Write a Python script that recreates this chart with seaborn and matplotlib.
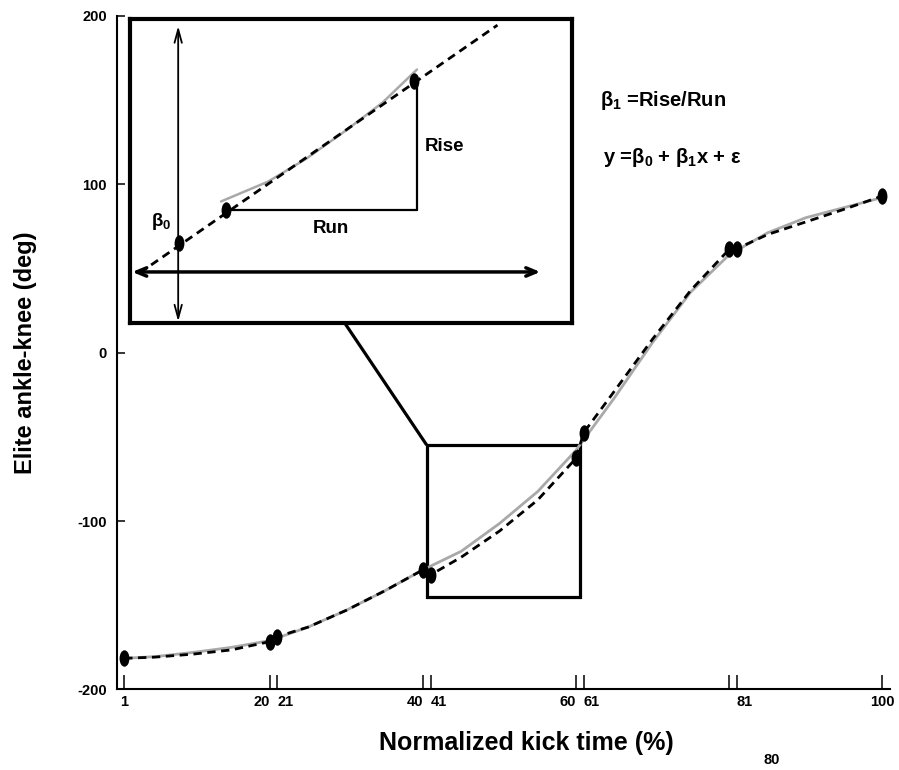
import numpy as np
import pandas as pd
import matplotlib
matplotlib.use("Agg")
import matplotlib.pyplot as plt
import seaborn as sns
from matplotlib.markers import MarkerStyle
from matplotlib.transforms import Affine2D
from matplotlib.patches import Rectangle

# ---------------- data ----------------
point_x = [1, 20, 21, 40, 41, 60, 61, 80, 81, 100]
point_y = [-181.5, -171.6, -168.6, -129.0, -132.0, -62.8, -47.6, 61.2, 61.6, 92.9]

gray_x = [1, 5, 10, 15, 20, 25, 30, 35, 40, 45, 50, 55, 60, 65, 70, 75, 80, 85, 90, 95, 100]
gray_y = [-181.5, -180.5, -178, -175, -171, -163, -153, -141.5, -129, -118, -101.5,
          -82.5, -58, -27, 6, 36, 58, 71, 80, 86, 92]

dash_x = [1, 5, 10, 15, 20, 21, 25, 30, 35, 40, 41, 45, 50, 55, 60, 61, 65, 70, 75,
          80, 81, 85, 90, 95, 100]
dash_y = [-181.5, -180.8, -179, -176.5, -171.6, -168.6, -163, -153, -141.5, -129,
          -132, -121.5, -106, -87.5, -62.8, -47.6, -23, 8, 37, 61.2, 61.6, 70, 77.5, 85, 92.9]

x_ticks = [1, 20, 21, 40, 41, 60, 61, 80, 81, 100]
x_tick_labels = ["1", "20", "21", "40", "41", "60", "61", "", "81", "100"]
y_ticks = [-200, -100, 0, 100, 200]

# zoomed region (data units) and inset frame (data units)
zoom_box = [40.5, -145.0, 60.5, -54.9]      # x0, y0, x1, y1
inset_box = [1.76, 17.5, 59.5, 197.9]       # x0, y0, x1, y1
connector_x = [29.8, 40.5]
connector_y = [17.5, -54.9]

# schematic inside the inset (inset units 0..100)
ins_dash_u = [2.2, 83.1]
ins_dash_v = [16.5, 98.0]
ins_gray_u = [20.6, 31.2, 39.8, 48.5, 57.1, 64.9]
ins_gray_v = [40.0, 46.5, 54.0, 63.0, 72.5, 83.4]
ins_pts_u = [11.1, 21.7, 64.3]
ins_pts_v = [26.2, 37.3, 79.5]

# ---------------- style ----------------
sns.set_theme(style="white")
plt.rcParams["font.family"] = ["Liberation Sans", "DejaVu Sans"]
plt.rcParams["font.weight"] = "bold"
plt.rcParams["axes.labelweight"] = "bold"

BLACK = "#000000"
GRAY = "#a9a9a9"
ell = MarkerStyle("o", transform=Affine2D().scale(0.6, 1.0))

fig = plt.figure(figsize=(8.99, 7.7), dpi=100)
fig.patch.set_facecolor("white")
ax = fig.add_axes([0.1296, 0.10455, 0.8604, 0.8753])
ax.set_facecolor("white")

# zoom rectangle + connector
zr = Rectangle((zoom_box[0], zoom_box[1]), zoom_box[2] - zoom_box[0], zoom_box[3] - zoom_box[1],
               fill=False, edgecolor=BLACK, linewidth=2.3, zorder=2)
ax.add_patch(zr)
ax.plot(connector_x, connector_y, color=BLACK, linewidth=2.3, zorder=2, solid_capstyle="butt")

sns.lineplot(x=gray_x, y=gray_y, color=GRAY, linewidth=2.0, ax=ax, zorder=3)
sns.lineplot(x=dash_x, y=dash_y, color=BLACK, linewidth=2.0, linestyle=(0, (3, 2)),
             ax=ax, zorder=4)
sns.scatterplot(x=point_x, y=point_y, marker=ell, s=140, color=BLACK, edgecolor=BLACK,
                linewidth=0, ax=ax, zorder=5)

ax.set_xlim(0, 101)
ax.set_ylim(-200, 200)
for s in ["top", "right"]:
    ax.spines[s].set_visible(False)
for s in ["left", "bottom"]:
    ax.spines[s].set_linewidth(1.5)
    ax.spines[s].set_color(BLACK)

ax.set_xticks(x_ticks)
ax.set_xticklabels(x_tick_labels)
ax.set_yticks(y_ticks)
ax.set_yticklabels([str(v) for v in y_ticks])
ax.tick_params(axis="x", direction="in", length=10, width=1.1, color=BLACK, pad=4,
               labelsize=10.5, labelcolor=BLACK, bottom=True)
ax.tick_params(axis="y", direction="in", length=6, width=1.1, color=BLACK, pad=7,
               labelsize=10.5, labelcolor=BLACK, left=True)
has = ["center", "right", "left", "right", "left", "right", "left", "right", "left", "center"]
for lab, h in zip(ax.get_xticklabels(), has):
    lab.set_ha(h)
    lab.set_fontweight("bold")
for lab in ax.get_yticklabels():
    lab.set_fontweight("bold")

# displaced "80" label
ax.annotate("80", xy=(80, 0), xycoords=("data", "axes fraction"), xytext=(43, -70.5),
            textcoords="offset pixels", ha="center", va="center", fontsize=10.5,
            fontweight="bold", color=BLACK)

ax.set_xlabel("Normalized kick time (%)", fontsize=18, fontweight="bold", color=BLACK, va="center")
ax.xaxis.set_label_coords(0.5294, -0.0794)
ax.set_ylabel("Elite ankle-knee (deg)", fontsize=17, fontweight="bold", color=BLACK, va="center")
ax.yaxis.set_label_coords(-0.1183, 0.5)

ax.text(63.1, 146.5, r"$\mathregular{\beta_1}$ =Rise/Run", fontsize=14.5, fontweight="bold",
        ha="left", va="baseline", color=BLACK)
ax.text(63.5, 112.6, r"y =$\mathregular{\beta_0}$ + $\mathregular{\beta_1}$x + ε", fontsize=14.5,
        fontweight="bold", ha="left", va="baseline", color=BLACK)

# ---------------- inset ----------------
axins = ax.inset_axes([inset_box[0], inset_box[1], inset_box[2] - inset_box[0],
                       inset_box[3] - inset_box[1]], transform=ax.transData)
axins.set_facecolor("white")
sns.lineplot(x=ins_gray_u, y=ins_gray_v, color=GRAY, linewidth=1.8, ax=axins, zorder=3)
sns.lineplot(x=ins_dash_u, y=ins_dash_v, color=BLACK, linewidth=2.0, linestyle=(0, (3, 2)),
             ax=axins, zorder=4)
# run & rise
axins.plot([ins_pts_u[1], 64.9], [ins_pts_v[1], ins_pts_v[1]], color=BLACK, lw=1.6, zorder=2)
axins.plot([64.9, 64.9], [ins_pts_v[1], ins_pts_v[2]], color=BLACK, lw=1.6, zorder=2)
sns.scatterplot(x=ins_pts_u, y=ins_pts_v, marker=ell, s=140, color=BLACK, edgecolor=BLACK,
                linewidth=0, ax=axins, zorder=5)
# axes arrows
axins.annotate("", xy=(10.9, 97.7), xytext=(10.9, 0.5),
               arrowprops=dict(arrowstyle="<->,head_length=0.8,head_width=0.22",
                               color=BLACK, lw=1.3, shrinkA=0, shrinkB=0))
axins.annotate("", xy=(92.8, 16.8), xytext=(0.5, 16.8),
               arrowprops=dict(arrowstyle="<->,head_length=0.6,head_width=0.25",
                               color=BLACK, lw=2.5, shrinkA=0, shrinkB=0))
axins.text(45.5, 31.0, "Run", fontsize=13.5, fontweight="bold", ha="center", va="center", color=BLACK)
axins.text(66.7, 58.0, "Rise", fontsize=13.5, fontweight="bold", ha="left", va="center", color=BLACK)
axins.text(4.8, 33.5, r"$\mathregular{\beta_0}$", fontsize=13.5, fontweight="bold", ha="left",
           va="center", color=BLACK)
axins.set_xlim(0, 100)
axins.set_ylim(0, 100)
axins.set_xticks([])
axins.set_yticks([])
axins.set_xlabel("")
axins.set_ylabel("")
for s in axins.spines.values():
    s.set_visible(True)
    s.set_linewidth(3.0)
    s.set_color(BLACK)

fig.savefig("out.png", dpi=100, facecolor="white")
